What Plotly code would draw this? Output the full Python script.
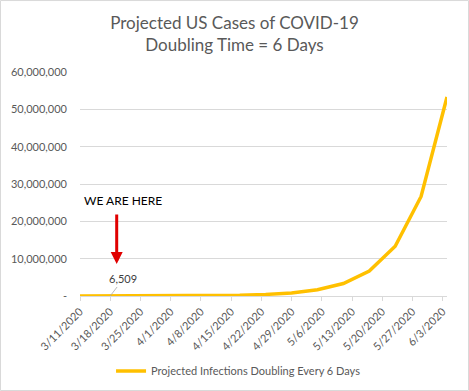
import plotly.graph_objects as go

# ---- data ----
dates = ["2020-03-11", "2020-03-18", "2020-03-24", "2020-03-30", "2020-04-05",
         "2020-04-11", "2020-04-17", "2020-04-23", "2020-04-29", "2020-05-05",
         "2020-05-11", "2020-05-17", "2020-05-23", "2020-05-29", "2020-06-04"]
cases = [2900, 6509, 13018, 26036, 52072, 104144, 208288, 416576, 833152,
         1666304, 3332608, 6665216, 13330432, 26660864, 53321728]

x_tick_vals = ["2020-03-11", "2020-03-18", "2020-03-25", "2020-04-01", "2020-04-08",
               "2020-04-15", "2020-04-22", "2020-04-29", "2020-05-06", "2020-05-13",
               "2020-05-20", "2020-05-27", "2020-06-03"]
x_tick_text = ["3/11/2020", "3/18/2020", "3/25/2020", "4/1/2020", "4/8/2020",
               "4/15/2020", "4/22/2020", "4/29/2020", "5/6/2020", "5/13/2020",
               "5/20/2020", "5/27/2020", "6/3/2020"]
y_tick_vals = [0, 10000000, 20000000, 30000000, 40000000, 50000000, 60000000]
y_tick_text = ["-", "10,000,000", "20,000,000", "30,000,000", "40,000,000",
               "50,000,000", "60,000,000"]

series_name = "Projected Infections Doubling Every 6 Days"
here_date = "2020-03-18"
here_value = 6509

FONT = "Lato"
GRAY = "#595959"

fig = go.Figure()
fig.add_trace(go.Scatter(
    x=dates, y=cases, mode="lines", name=series_name,
    line=dict(color="#FFC000", width=3.5),
))

fig.update_layout(
    width=469, height=391,
    margin=dict(l=80, r=22, t=72, b=95, autoexpand=False),
    paper_bgcolor="white", plot_bgcolor="white",
    title=dict(text="Projected US Cases of COVID-19<br>Doubling Time = 6 Days",
               x=0.5, xanchor="center", y=0.925, yanchor="top",
               font=dict(family=FONT, size=17, color=GRAY)),
    font=dict(family=FONT, size=11, color=GRAY),
    showlegend=True,
    legend=dict(orientation="h", x=0.432, xanchor="center", y=-0.335, yanchor="middle",
                font=dict(family=FONT, size=11, color=GRAY)),
)

fig.update_xaxes(
    type="date", range=["2020-03-11", "2020-06-04"], automargin=False,
    tickmode="array", tickvals=x_tick_vals, ticktext=x_tick_text,
    tickangle=-45, showgrid=False, showline=True, linecolor="#d9d9d9", linewidth=1,
    ticks="outside", ticklen=4, tickcolor="#d9d9d9",
    tickfont=dict(family=FONT, size=11, color=GRAY),
)
fig.update_yaxes(
    range=[0, 60000000], automargin=False,
    tickmode="array", tickvals=y_tick_vals, ticktext=y_tick_text,
    showgrid=True, gridcolor="#d9d9d9", gridwidth=1, zeroline=False, showline=False,
    ticks="", ticklabelstandoff=12,
    tickfont=dict(family=FONT, size=11, color=GRAY),
)

# Data label with leader line
fig.add_annotation(x=here_date, y=here_value, text="6,509", showarrow=True,
                   arrowhead=0, arrowwidth=0.8, arrowcolor="#a6a6a6",
                   ax=13, ay=-17, font=dict(family=FONT, size=11, color="#404040"))
# Red arrow
fig.add_annotation(x="2020-03-19 12:00", y=8600000, text="", showarrow=True,
                   arrowhead=2, arrowsize=0.8, arrowwidth=3, arrowcolor="#E00000",
                   ax=0, ay=-51)
fig.add_annotation(x="2020-03-11 12:00", y=25500000, xanchor="left", yanchor="middle",
                   text="WE ARE HERE", showarrow=False,
                   font=dict(family=FONT, size=12, color="black"))

# chart border
fig.add_shape(type="rect", xref="paper", yref="paper",
              x0=-0.2166, x1=1.0586, y0=-0.4219, y1=1.319,
              line=dict(color="#d9d9d9", width=1))

fig.write_html("out.html", config={"displayModeBar": False},
               post_script="document.body.style.margin='0';document.body.style.padding='0';")
